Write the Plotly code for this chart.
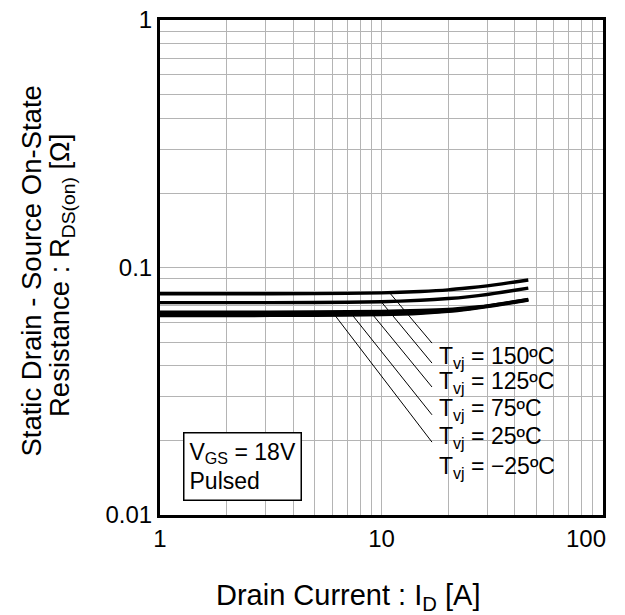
import numpy as np
import plotly.graph_objects as go

# ---- data ----
current = [1, 2, 5, 10, 15, 20, 25, 30, 35, 40, 46]
r_150 = [0.0783, 0.0783, 0.0784, 0.0790, 0.0800, 0.0812, 0.0828, 0.0843, 0.0859, 0.0874, 0.0890]
r_125 = [0.0721, 0.0721, 0.0722, 0.0727, 0.0737, 0.0749, 0.0763, 0.0778, 0.0794, 0.0809, 0.0825]
r_75 = [0.0660, 0.0660, 0.0661, 0.0665, 0.0670, 0.0677, 0.0688, 0.0700, 0.0715, 0.0728, 0.0743]
r_25 = [0.0645, 0.0645, 0.0646, 0.0650, 0.0658, 0.0669, 0.0683, 0.0698, 0.0713, 0.0727, 0.0741]
r_m25 = [0.0640, 0.0640, 0.0641, 0.0645, 0.0653, 0.0665, 0.0680, 0.0695, 0.0710, 0.0724, 0.0738]
series = [r_150, r_125, r_75, r_25, r_m25]

labels = ["T<sub>vj</sub> = 150ºC", "T<sub>vj</sub> = 125ºC", "T<sub>vj</sub> = 75ºC",
          "T<sub>vj</sub> = 25ºC", "T<sub>vj</sub> = −25ºC"]
leader_start_i = [10.9, 10.05, 9.06, 7.36, 6.17]
leader_start_r = [0.0789, 0.0721, 0.0650, 0.0645, 0.0640]
leader_end_i = [16.9, 16.9, 16.9, 16.9, 16.9]
leader_end_r = [0.0495, 0.0411, 0.0329, 0.0254, 0.0197]
label_i = 17.8
label_r = [0.0433, 0.0344, 0.0266, 0.0206, 0.0156]

x_tickvals = [1, 10]
x_ticktext = ["1", "10"]
x_last_tick = "100"
y_tickvals = [0.01, 0.1, 1]
y_ticktext = ["0.01", "0.1", "1"]

y_title_lines = ["Static Drain - Source On-State", "Resistance : R<sub>DS(on)</sub> [Ω]"]
x_title = "Drain Current : I<sub>D</sub> [A]"

FONT = "Liberation Sans, Arial, sans-serif"
FS_TICK = 24
FS_LAB = 23
FS_YTITLE = 27.5
FS_XTITLE = 29

fig = go.Figure()
for s in series:
    fig.add_trace(go.Scatter(x=current, y=s, mode="lines",
                             line=dict(color="black", width=3.4, shape="spline", smoothing=0.6),
                             showlegend=False, hoverinfo="skip"))
for xs, ys, xe, ye in zip(leader_start_i, leader_start_r, leader_end_i, leader_end_r):
    fig.add_trace(go.Scatter(x=[xs, xe], y=[ys, ye], mode="lines",
                             line=dict(color="black", width=1),
                             showlegend=False, hoverinfo="skip"))

for lab, ry in zip(labels, label_r):
    fig.add_annotation(x=np.log10(label_i), y=np.log10(ry), xref="x", yref="y",
                       text=lab, showarrow=False, xanchor="left", yanchor="middle",
                       font=dict(family=FONT, size=FS_LAB, color="black"))

fig.add_annotation(x=0.051, y=0.168, xref="paper", yref="paper",
                   text="V<sub>GS</sub> = 18V<br>Pulsed", showarrow=False,
                   xanchor="left", yanchor="top", align="left",
                   bordercolor="black", borderwidth=1.5, borderpad=5, bgcolor="white",
                   font=dict(family=FONT, size=FS_LAB, color="black"))

# last x tick label, pulled inside the page as in the reference
fig.add_annotation(x=0.9605, y=-0.0465, xref="paper", yref="paper", text=x_last_tick,
                   showarrow=False, xanchor="center", yanchor="middle",
                   font=dict(family=FONT, size=FS_TICK, color="black"))

# axis titles
fig.add_annotation(x=-0.291, y=0.492, xref="paper", yref="paper", text=y_title_lines[0],
                   textangle=-90, showarrow=False, xanchor="center", yanchor="middle",
                   font=dict(family=FONT, size=FS_YTITLE, color="black"))
fig.add_annotation(x=-0.221, y=0.483, xref="paper", yref="paper", text=y_title_lines[1],
                   textangle=-90, showarrow=False, xanchor="center", yanchor="middle",
                   font=dict(family=FONT, size=FS_YTITLE, color="black"))
fig.add_annotation(x=0.424, y=-0.166, xref="paper", yref="paper", text=x_title,
                   showarrow=False, xanchor="center", yanchor="middle",
                   font=dict(family=FONT, size=FS_XTITLE, color="black"))

fig.add_shape(type="rect", xref="paper", yref="paper", x0=0.614, x1=0.907, y0=0.0566, y1=0.374,
              fillcolor="white", line=dict(width=0), layer="between")

axis_common = dict(type="log", showline=True, linecolor="black", linewidth=3, mirror=True,
                   showgrid=True, gridcolor="#b4b4b4", gridwidth=1, ticks="", automargin=False,
                   ticklabeloverflow="allow",
                   tickfont=dict(family=FONT, size=FS_TICK, color="black"), zeroline=False,
                   minor=dict(dtick="D1", showgrid=True, gridcolor="#b4b4b4", gridwidth=1, ticks=""))

fig.update_xaxes(**axis_common, range=[0, 2], tickvals=x_tickvals, ticktext=x_ticktext)
fig.update_yaxes(**axis_common, range=[-2, 0], tickvals=y_tickvals, ticktext=y_ticktext)

fig.update_layout(width=625, height=615, margin=dict(l=160, r=22, t=20, b=100),
                  paper_bgcolor="white", plot_bgcolor="white", hovermode=False,
                  font=dict(family=FONT, size=FS_TICK, color="black"))

# remove the browser's default 8px page margin so the figure fills the window exactly
fig.write_html("out.html", config={"displayModeBar": False, "staticPlot": True},
               post_script="document.body.style.margin='0';")
